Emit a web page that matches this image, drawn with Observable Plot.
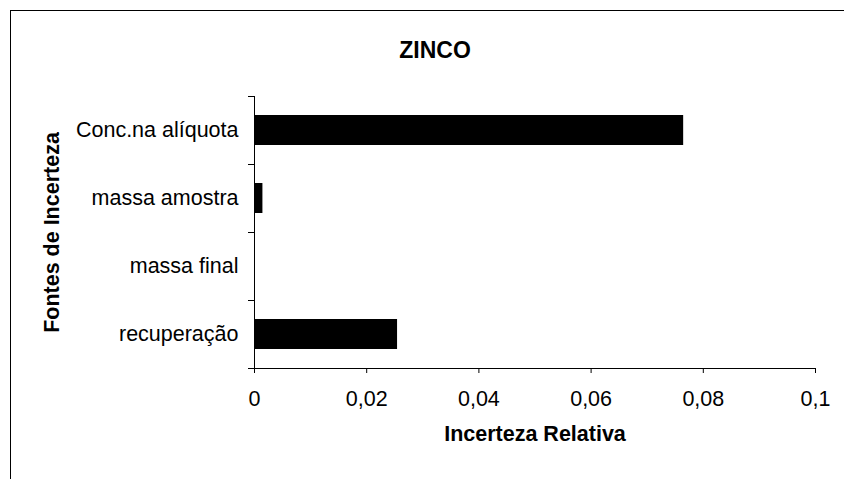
<!DOCTYPE html>
<html>
<head>
<meta charset="utf-8">
<script src="https://cdn.jsdelivr.net/npm/d3@7"></script>
<script src="https://cdn.jsdelivr.net/npm/@observablehq/plot@0.6"></script>
<style>
  html, body { margin: 0; padding: 0; background: #fff; }
  #wrap { position: relative; width: 844px; height: 479px; overflow: hidden; }
  #border { position: absolute; left: 10px; top: 10px; width: 900px; height: 600px;
            border-left: 1.5px solid #000; border-top: 1.5px solid #000; }
  #chart { position: absolute; left: 0; top: 0; }
</style>
</head>
<body>
<div id="wrap"><div id="border"></div><div id="chart"></div></div>
<script>
const title = "ZINCO";
const xTitle = "Incerteza Relativa";
const yTitle = "Fontes de Incerteza";
const categories = ["Conc.na alíquota", "massa amostra", "massa final", "recuperação"];
const values = [0.0765, 0.0015, 0, 0.0255];
const xTicks = [0, 0.02, 0.04, 0.06, 0.08, 0.1];

const data = categories.map((c, i) => ({category: c, value: values[i]}));
const font = "'Liberation Sans', Arial, sans-serif";
const bw = (368 - 96) / categories.length;

const plot = Plot.plot({
  width: 844,
  height: 479,
  marginLeft: 254,
  marginRight: 29,
  marginTop: 96,
  marginBottom: 111,
  style: {fontFamily: font, fontSize: "21.5px", color: "#000", background: "transparent"},
  x: {domain: [0, 0.1]},
  y: {domain: categories, padding: 0},
  marks: [
    Plot.barX(data, {x: "value", y: "category", fill: "#000", insetTop: 19, insetBottom: 19}),
    Plot.frame({anchor: "left", stroke: "#000"}),
    Plot.frame({anchor: "bottom", stroke: "#000"}),
    Plot.ruleY(categories, {y: d => d, dy: -bw / 2, dx: -6, insetRight: 844 - 254 - 29 - 6, stroke: "#000"}),
    Plot.ruleY(categories.slice(-1), {y: d => d, dy: bw / 2, dx: -6, insetRight: 844 - 254 - 29 - 6, stroke: "#000"}),
    Plot.axisY({tickSize: 0, tickPadding: 16, label: null, fontSize: 21.5}),
    Plot.axisX({ticks: xTicks, tickSize: 5, tickPadding: 17, label: null, fontSize: 21.5,
                tickFormat: d => String(d).replace(".", ",")}),
    Plot.text([xTitle], {frameAnchor: "bottom", dy: 72, text: d => d, fontWeight: "bold", fontSize: 21.5, fill: "#000"}),
    Plot.text([yTitle], {frameAnchor: "left", dx: -202, rotate: -90, textAnchor: "middle", text: d => d, fontWeight: "bold", fontSize: 21.5, fill: "#000"}),
    Plot.text([title], {frameAnchor: "top", dx: -100, dy: -55, text: d => d, fontWeight: "bold", fontSize: 23, fill: "#000"})
  ]
});
document.getElementById("chart").appendChild(plot);
</script>
</body>
</html>
